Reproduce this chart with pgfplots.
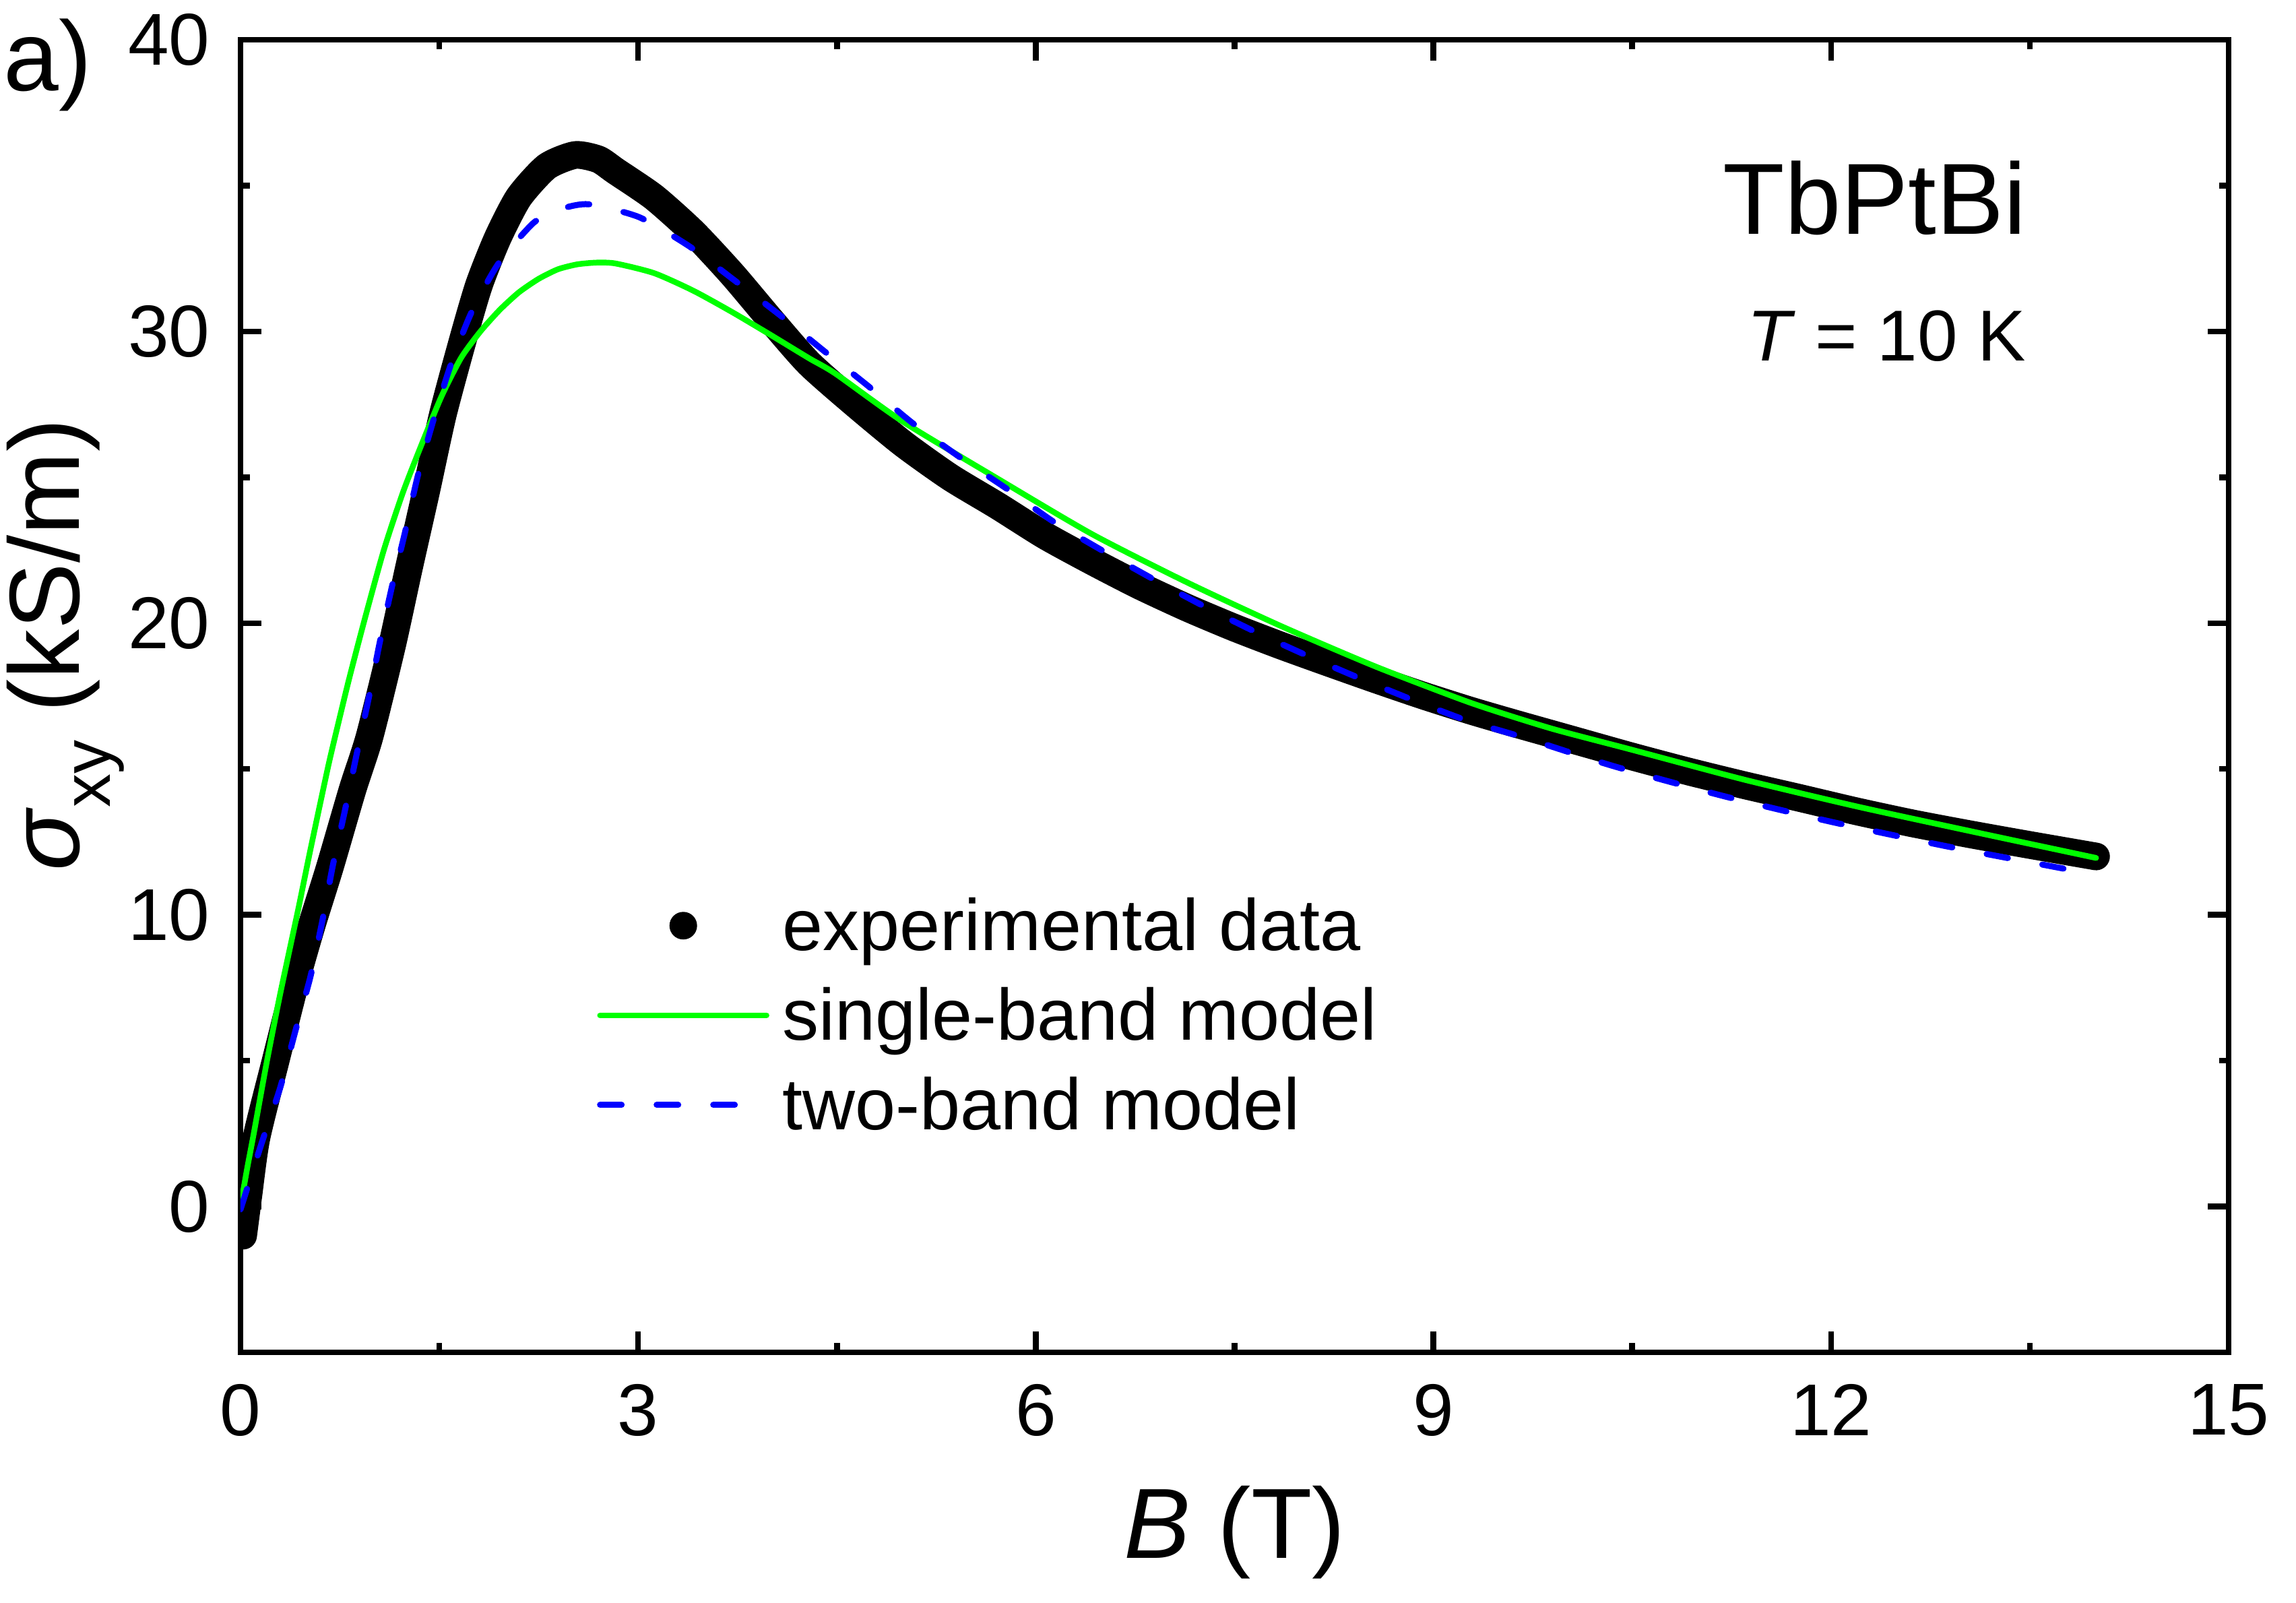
\documentclass[border=0pt]{standalone}
\usepackage{fontspec}
\setmainfont{Liberation Sans}
\usepackage{pgfplots}
\pgfplotsset{compat=1.18}
\definecolor{fitgreen}{RGB}{0,255,0}
\definecolor{fitblue}{RGB}{0,0,255}
\pgfplotsset{
  expimg/.style={legend image code/.code={\fill[black, draw=none, line width=0pt] (12.35pt,0pt) circle (2.05pt);}},
  greenimg/.style={legend image code/.code={\draw[fitgreen, line width=0.85pt, line cap=round] (0pt,0pt) -- (24.7pt,0pt);}},
  blueimg/.style={legend image code/.code={\draw[fitblue, line width=0.9pt, line cap=round, dash pattern=on 3.2pt off 5.2pt] (0pt,0pt) -- (24.7pt,0pt);}},
}
\begin{document}
\begin{tikzpicture}
\begin{axis}[
  scale only axis, width=295.1pt, height=194.8pt,
  xmin=0, xmax=15, ymin=-5, ymax=40,
  xtick={0,3,6,9,12,15}, ytick={0,10,20,30,40},
  minor x tick num=1, minor y tick num=1,
  tick align=inside, xtick pos=both, ytick pos=both,
  xticklabel pos=lower, yticklabel pos=left,
  major tick length=3.1pt, minor tick length=1.4pt,
  line width=0.85pt,
  every tick/.style={black, line width=0.85pt},
  every minor tick/.style={black, line width=0.85pt},
  every major tick/.style={black, line width=0.85pt},
  clip mode=individual,
  tick label style={font=\fontsize{10.9}{12}\selectfont},
  /pgf/number format/assume math mode=true,
  xticklabel style={yshift=-1pt},
  yticklabel style={xshift=-0.8pt},
  xlabel={\textit{B} (T)},
  xlabel style={font=\fontsize{14.8}{16}\selectfont, at={(axis description cs:0.5,-0.1569)}, anchor=base},
  ylabel={\textit{σ}\raisebox{-4.6pt}{\fontsize{10}{10}\selectfont xy} (kS/m)},
  ylabel style={font=\fontsize{14.8}{16}\selectfont, at={(axis description cs:-0.0813,0.539)}, anchor=base},
  legend style={at={(axis cs:2.69,11.06)}, anchor=north west, draw=none, fill=none,
    inner sep=0pt, outer sep=0pt, font=\fontsize{10.8}{12}\selectfont, row sep=0.9pt,
    nodes={inner sep=0pt, text height=9.9pt, text depth=2.5pt},
    /tikz/every odd column/.append style={column sep=1.9pt}},
  legend cell align=left,
]
\addplot[black, line width=4.1pt, line cap=round, line join=round, smooth, tension=0.4, expimg]
coordinates {
(0.02,-1.0) (0.04,-0.3) (0.06,0.4) (0.12,2.35) (0.265,5.0) (0.413,7.66) (0.538,9.65)
(0.674,11.63) (0.845,14.29) (0.973,16.1) (1.142,19.21) (1.269,21.86) (1.40,24.51)
(1.527,27.16) (1.684,29.81) (1.80,31.6) (1.94,33.2) (2.10,34.6) (2.31,35.65) (2.525,36.05)
(2.70,35.9) (2.83,35.5) (3.12,34.6) (3.415,33.4) (3.71,31.96) (4.0,30.4) (4.29,28.9)
(4.64,27.5) (5.0,26.15) (5.355,25.0) (5.71,24.03) (6.07,23.0) (6.425,22.12) (6.78,21.29)
(7.14,20.53) (7.495,19.85) (7.85,19.23) (8.21,18.64) (8.565,18.07) (8.92,17.52) (9.28,17.0)
(9.62,16.55) (10.05,16.0) (10.48,15.45) (10.91,14.93) (11.34,14.45) (11.76,14.01)
(12.19,13.55) (12.62,13.13) (13.05,12.76) (13.48,12.41) (14.0,12.0)
};
\addlegendentry{experimental data}
\addplot[fitgreen, line width=0.85pt, line cap=round, smooth, tension=0.4, greenimg]
coordinates {
(0,0) (0.05,1.3) (0.1,2.5) (0.2,5.0) (0.3,7.3) (0.436,10.2) (0.526,12.2) (0.662,15.1)
(0.745,16.7) (0.82,18.1) (0.935,20.1) (1.081,22.5) (1.227,24.5) (1.373,26.2) (1.519,27.8)
(1.665,29.1) (1.81,30.0) (1.956,30.74) (2.10,31.34) (2.248,31.8) (2.394,32.13) (2.54,32.3)
(2.686,32.36) (2.83,32.33) (3.12,32.0) (3.415,31.4) (3.707,30.67) (4.0,29.88) (4.29,29.08)
(4.49,28.55) (5.0,26.9) (5.71,24.96) (6.425,23.05) (7.14,21.40) (7.85,19.9) (8.565,18.51)
(9.28,17.27) (9.88,16.4) (10.48,15.68) (11.34,14.64) (12.19,13.72) (13.05,12.87) (14.0,11.95)
};
\addlegendentry{single-band model}
\addplot[fitblue, line width=0.9pt, line cap=round, dash pattern=on 3.2pt off 5.2pt, smooth, tension=0.4, blueimg]
coordinates {
(0,-0.1) (0.163,2.22) (0.30,4.08) (0.413,6.0) (0.526,7.85) (0.617,9.78) (0.697,11.7)
(0.787,13.56) (0.878,15.54) (0.970,17.49) (1.052,19.37) (1.142,21.24) (1.241,23.11)
(1.335,25.0) (1.451,26.89) (1.583,28.81) (1.738,30.61) (1.942,32.3) (2.21,33.72)
(2.42,34.2) (2.628,34.36) (3.007,33.92) (3.386,32.92) (3.713,31.8) (4.064,30.58) (4.40,29.34)
(4.73,28.15) (5.07,26.86) (5.43,25.68) (5.80,24.55) (6.14,23.46) (6.525,22.43) (6.91,21.45)
(7.29,20.53) (7.68,19.65) (8.08,18.82) (8.475,18.05) (8.87,17.32) (9.26,16.65) (9.68,16.08)
(10.35,15.11) (11.19,14.07) (12.01,13.18) (12.85,12.37) (13.69,11.64) (14.0,11.37)
};
\addlegendentry{two-band model}
\node[anchor=base west, font=\fontsize{14.7}{16}\selectfont, inner sep=0pt] at (axis description cs:-0.1206,0.9615) {a)};
\node[anchor=base east, font=\fontsize{15}{16}\selectfont, inner sep=0pt] at (axis description cs:0.8997,0.8518) {TbPtBi};
\node[anchor=base east, font=\fontsize{10.7}{12}\selectfont, inner sep=0pt] at (axis description cs:0.8994,0.7553) {\textit{T} = 10 K};
\end{axis}
\pgfresetboundingbox
\path[use as bounding box] ([shift={(-35.7pt,-37.2pt)}]current axis.south west) rectangle ([shift={(305.1pt,200.7pt)}]current axis.south west);
\end{tikzpicture}
\end{document}
